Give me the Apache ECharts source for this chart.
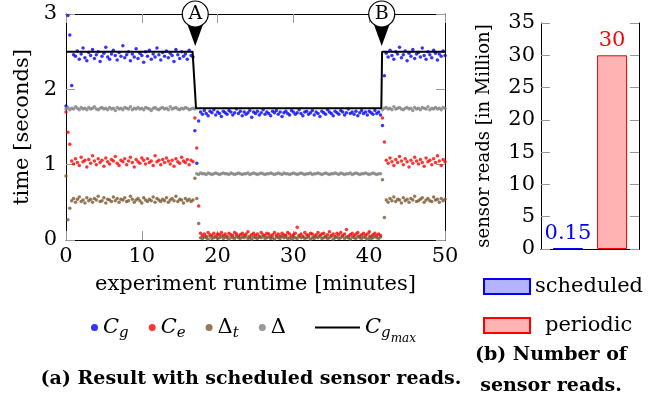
<!DOCTYPE html>
<html>
<head>
<meta charset="utf-8">
<script src="https://cdn.jsdelivr.net/npm/echarts@6/dist/echarts.min.js"></script>
<style>
  html, body { margin: 0; padding: 0; background: #fff; }
  #chart { width: 665px; height: 395px; }
</style>
</head>
<body>
<div id="chart"></div>
<script>
// samples every 0.25 minutes, t = 0 .. 50
var STEP = 0.25
var cg = [1.78, 2.98, 2.72, 2.05, 2.46,
  2.44, 2.51, 2.40, 2.47, 2.55, 2.42, 2.38, 2.49, 2.45, 2.53,
  2.41, 2.46, 2.50, 2.37, 2.44, 2.48, 2.56, 2.43, 2.40, 2.47,
  2.52, 2.45, 2.39, 2.49, 2.44, 2.58, 2.42, 2.46, 2.50, 2.38,
  2.47, 2.43, 2.54, 2.41, 2.48, 2.45, 2.36, 2.50, 2.44, 2.52,
  2.40, 2.47, 2.43, 2.55, 2.46, 2.39, 2.49, 2.44, 2.51, 2.42,
  2.48, 2.45, 2.37, 2.53, 2.46, 2.41, 2.50, 2.44, 2.47, 2.40,
  2.52, 2.45, 2.43,
  1.45, 1.02, 1.58,
  1.70, 1.67, 1.72, 1.68, 1.65, 1.71, 1.69, 1.73, 1.66, 1.70,
  1.68, 1.64, 1.71, 1.69, 1.67, 1.72, 1.70, 1.66, 1.69, 1.74,
  1.68, 1.71, 1.65, 1.70, 1.67, 1.69, 1.72, 1.63, 1.70, 1.68,
  1.71, 1.66, 1.69, 1.73, 1.67, 1.70, 1.68, 1.65, 1.71, 1.69,
  1.72, 1.67, 1.70, 1.64, 1.69, 1.71, 1.68, 1.66, 1.72, 1.70,
  1.67, 1.69, 1.73, 1.68, 1.65, 1.70, 1.71, 1.67, 1.69, 1.72,
  1.66, 1.70, 1.68, 1.64, 1.71, 1.69, 1.67, 1.73, 1.70, 1.68,
  1.65, 1.71, 1.69, 1.67, 1.72, 1.70, 1.66, 1.69, 1.74, 1.68,
  1.70, 1.67, 1.71, 1.65, 1.69, 1.72, 1.68, 1.70, 1.66, 1.71,
  1.69, 1.67, 1.72, 1.68, 1.70, 1.66,
  1.52, 2.18,
  2.48, 2.43, 2.52, 2.45, 2.40, 2.50, 2.47, 2.56, 2.42, 2.46,
  2.51, 2.38, 2.48, 2.44, 2.53, 2.41, 2.47, 2.49, 2.43, 2.55,
  2.45, 2.40, 2.50, 2.46, 2.42, 2.52, 2.48, 2.39, 2.47, 2.44,
  2.51, 2.45]
var ce = [1.70, 1.43, 1.27,
  1.05, 1.01, 1.08, 1.03, 0.99, 1.10, 1.04, 1.06, 0.97, 1.07,
  1.02, 1.12, 1.05, 1.00, 1.08, 1.03, 1.06, 0.98, 1.09, 1.04,
  1.01, 1.07, 1.05, 1.11, 1.02, 0.99, 1.06, 1.04, 1.08, 1.00,
  1.05, 1.10, 1.03, 0.97, 1.07, 1.04, 1.02, 1.09, 1.06, 1.01,
  1.08, 1.03, 1.05, 0.99, 1.12, 1.04, 1.06, 1.00, 1.07, 1.03,
  1.09, 1.05, 1.01, 1.06, 0.98, 1.08, 1.04, 1.02, 1.10, 1.05,
  1.03, 1.07, 1.00, 1.06, 1.04,
  1.62, 1.22, 0.45,
  0.09, 0.06, 0.08, 0.05, 0.10, 0.07, 0.06, 0.09, 0.05, 0.08,
  0.07, 0.10, 0.06, 0.08, 0.05, 0.09, 0.07, 0.06, 0.10, 0.08,
  0.05, 0.07, 0.09, 0.06, 0.08, 0.11, 0.05, 0.07, 0.09, 0.06,
  0.08, 0.05, 0.10, 0.07, 0.06, 0.09, 0.08, 0.05, 0.07, 0.10,
  0.06, 0.08, 0.05, 0.09, 0.07, 0.06, 0.10, 0.08, 0.05, 0.07,
  0.09, 0.17, 0.06, 0.08, 0.05, 0.10, 0.07, 0.06, 0.09, 0.08,
  0.05, 0.07, 0.10, 0.06, 0.08, 0.09, 0.05, 0.07, 0.11, 0.06,
  0.08, 0.05, 0.09, 0.07, 0.10, 0.06, 0.08, 0.14, 0.05, 0.07,
  0.09, 0.06, 0.08, 0.10, 0.05, 0.07, 0.09, 0.06, 0.08, 0.11,
  0.05, 0.07, 0.09, 0.06, 0.08, 0.06,
  1.62, 1.30,
  1.06, 1.02, 1.09, 1.04, 0.99, 1.07, 1.03, 1.11, 1.05, 1.00,
  1.08, 1.04, 0.97, 1.06, 1.02, 1.10, 1.05, 1.01, 1.07, 1.03,
  0.98, 1.09, 1.04, 1.06, 1.00, 1.08, 1.03, 1.12, 1.05, 0.99,
  1.07, 1.04]
var dt = [0.85, 0.27, 0.42,
  0.52, 0.55, 0.50, 0.54, 0.57, 0.51, 0.53, 0.49, 0.56, 0.52,
  0.54, 0.50, 0.55, 0.53, 0.58, 0.51, 0.52, 0.56, 0.49, 0.54,
  0.53, 0.51, 0.57, 0.52, 0.55, 0.50, 0.54, 0.53, 0.56, 0.51,
  0.52, 0.58, 0.54, 0.50, 0.53, 0.55, 0.52, 0.49, 0.56, 0.53,
  0.51, 0.54, 0.52, 0.57, 0.50, 0.55, 0.53, 0.51, 0.54, 0.52,
  0.56, 0.50, 0.53, 0.55, 0.52, 0.58, 0.51, 0.54, 0.53, 0.49,
  0.55, 0.52, 0.54, 0.51, 0.53,
  0.82, 0.55, 0.22,
  0.03, 0.02, 0.04, 0.03, 0.01, 0.05, 0.02, 0.03, 0.04, 0.02,
  0.03, 0.05, 0.02, 0.04, 0.03, 0.01, 0.04, 0.03, 0.02, 0.05,
  0.03, 0.02, 0.04, 0.03, 0.05, 0.02, 0.03, 0.01, 0.04, 0.03,
  0.02, 0.04, 0.03, 0.05, 0.02, 0.03, 0.04, 0.02, 0.03, 0.01,
  0.04, 0.03, 0.02, 0.05, 0.03, 0.04, 0.02, 0.03, 0.01, 0.04,
  0.03, 0.02, 0.05, 0.03, 0.04, 0.02, 0.03, 0.04, 0.01, 0.03,
  0.02, 0.04, 0.03, 0.05, 0.02, 0.03, 0.04, 0.02, 0.03, 0.05,
  0.01, 0.03, 0.04, 0.02, 0.03, 0.05, 0.02, 0.04, 0.03, 0.01,
  0.04, 0.03, 0.02, 0.05, 0.03, 0.02, 0.04, 0.03, 0.01, 0.04,
  0.02, 0.03, 0.05, 0.03, 0.02, 0.04,
  0.80, 0.30,
  0.53, 0.50, 0.55, 0.52, 0.57, 0.51, 0.54, 0.53, 0.49, 0.56,
  0.52, 0.54, 0.50, 0.55, 0.53, 0.58, 0.51, 0.52, 0.54, 0.56,
  0.50, 0.53, 0.55, 0.52, 0.51, 0.57, 0.53, 0.54, 0.50, 0.55,
  0.52, 0.54]
var delta = [
  1.74, 1.76, 1.73, 1.75, 1.74, 1.77, 1.75, 1.73, 1.76, 1.74,
  1.75, 1.73, 1.76, 1.74, 1.75, 1.77, 1.74, 1.73, 1.75, 1.76,
  1.74, 1.75, 1.73, 1.76, 1.74, 1.75, 1.72, 1.76, 1.74, 1.75,
  1.73, 1.76, 1.75, 1.74, 1.77, 1.73, 1.75, 1.74, 1.76, 1.74,
  1.75, 1.73, 1.76, 1.75, 1.74, 1.72, 1.75, 1.76, 1.74, 1.73,
  1.75, 1.76, 1.74, 1.75, 1.73, 1.77, 1.74, 1.75, 1.76, 1.74,
  1.73, 1.75, 1.74, 1.76, 1.75, 1.73, 1.74, 1.75,
  1.74,
  0.88, 0.87, 0.89, 0.88, 0.88, 0.87, 0.89, 0.88, 0.87, 0.88,
  0.89, 0.88, 0.87, 0.88, 0.89, 0.88, 0.88, 0.87, 0.89, 0.88,
  0.87, 0.88, 0.89, 0.88, 0.87, 0.88, 0.88, 0.89, 0.87, 0.88,
  0.89, 0.88, 0.87, 0.88, 0.89, 0.88, 0.87, 0.88, 0.88, 0.89,
  0.88, 0.87, 0.88, 0.89, 0.88, 0.87, 0.89, 0.88, 0.88, 0.87,
  0.88, 0.89, 0.88, 0.87, 0.88, 0.89, 0.88, 0.87, 0.88, 0.88,
  0.89, 0.87, 0.88, 0.88, 0.89, 0.88, 0.87, 0.88, 0.89, 0.88,
  0.87, 0.88, 0.88, 0.89, 0.88, 0.87, 0.89, 0.88, 0.87, 0.88,
  0.88, 0.89, 0.87, 0.88, 0.89, 0.88, 0.87, 0.88, 0.88, 0.89,
  0.88, 0.87, 0.88, 0.89, 0.88, 0.87, 0.88, 0.88,
  1.73, 1.75, 1.76, 1.74, 1.75, 1.73, 1.77, 1.74, 1.75, 1.76,
  1.74, 1.73, 1.75, 1.76, 1.74, 1.75, 1.72, 1.76, 1.74, 1.75,
  1.73, 1.76, 1.75, 1.74, 1.77, 1.73, 1.75, 1.74, 1.76, 1.74,
  1.75, 1.73, 1.76, 1.75]
// C_gmax step line (minutes, seconds)
var cgmaxT = [0, 16.7, 17.15, 41.6, 41.7, 50]
var cgmaxV = [2.5, 2.5, 1.75, 1.75, 2.5, 2.5]
// annotation markers
var marks = [['A', 17.05], ['B', 41.65]]

// bar panel
var barNames = ['scheduled', 'periodic']
var barValues = [0.15, 30]
var barLabels = ['0.15', '30']

var FONT = "'DejaVu Serif', 'Liberation Serif', serif"
var TICK = '#999'

function withTime(vals) {
  var out = []
  for (var i = 0; i < vals.length; i++) out.push([i * STEP, vals[i]])
  return out
}

var lineData = []
for (var i = 0; i < cgmaxT.length; i++) lineData.push([cgmaxT[i], cgmaxV[i]])

var markData = []
marks.forEach(function (m) {
  markData.push({
    coord: [m[1], 2.72], symbol: 'triangle', symbolRotate: 180, symbolSize: [16, 22],
    itemStyle: { color: '#000' }, label: { show: false }
  })
  markData.push({
    coord: [m[1], 3.0], symbol: 'circle', symbolSize: 26,
    itemStyle: { color: '#fff', borderColor: '#000', borderWidth: 1.2 },
    label: { show: true, position: 'inside', formatter: m[0], color: '#000', fontSize: 19, fontFamily: FONT }
  })
})

var legendNames = {
  'Cg': '{i|C}{s|g}',
  'Ce': '{i|C}{s|e}',
  'Dt': '{n|Δ}{s|t}',
  'D': '{n|Δ}',
  'Cgmax': '{i|C}{s|g}{ss|max}'
}
var rich = {
  i: { fontFamily: FONT, fontStyle: 'italic', fontSize: 21, color: '#000' },
  n: { fontFamily: FONT, fontSize: 21, color: '#000' },
  s: { fontFamily: FONT, fontStyle: 'italic', fontSize: 15, color: '#000', padding: [12, 0, 0, 0] },
  ss: { fontFamily: FONT, fontStyle: 'italic', fontSize: 12, color: '#000', padding: [22, 0, 0, 0] }
}

var scatterColors = { Cg: '#0000ff', Ce: '#ff0000', Dt: '#7b5631', D: '#808080' }
function scatter(name, vals) {
  return {
    name: name, type: 'scatter', xAxisIndex: 0, yAxisIndex: 0,
    data: withTime(vals), symbolSize: 3.5,
    itemStyle: { color: scatterColors[name] }
  }
}

var axisText = { color: '#000', fontSize: 21, fontFamily: FONT }

var chart = echarts.init(document.getElementById('chart'), null, { renderer: 'canvas' })
chart.setOption({
  animation: false,
  backgroundColor: '#fff',
  title: [
    { text: '(a) Result with scheduled sensor reads.', left: 246, top: 365, textAlign: 'center',
      textStyle: { fontFamily: FONT, fontWeight: 'bold', fontSize: 19, color: '#000' } },
    { text: '(b) Number of\nsensor reads.', left: 546, top: 335, textAlign: 'center',
      textStyle: { fontFamily: FONT, fontWeight: 'bold', fontSize: 19, color: '#000', lineHeight: 31 } }
  ],
  grid: [
    { left: 66, top: 14, width: 379, height: 226 },
    { left: 541, top: 23, width: 98, height: 226 }
  ],
  legend: [
    { data: ['Cg', 'Ce', 'Dt', 'D'], left: 86, top: 312, icon: 'circle', itemWidth: 7, itemHeight: 7,
      itemGap: 20, formatter: function (n) { return legendNames[n] }, textStyle: { rich: rich } },
    { data: [{ name: 'Cgmax', icon: 'rect' }], left: 310, top: 312, itemWidth: 45, itemHeight: 2,
      formatter: function (n) { return legendNames[n] }, textStyle: { rich: rich } },
    { data: [barNames[0], { name: barNames[1], textStyle: { padding: [0, 0, 0, 10] } }],
      left: 478, top: 271, orient: 'vertical', itemWidth: 46, itemHeight: 15, itemGap: 18,
      icon: 'rect', textStyle: { color: '#000', fontSize: 21, fontFamily: FONT } }
  ],
  xAxis: [
    { gridIndex: 0, type: 'value', min: 0, max: 50, interval: 10,
      name: 'experiment runtime [minutes]', nameLocation: 'middle', nameGap: 34,
      nameTextStyle: axisText,
      axisLine: { onZero: false, lineStyle: { color: '#000', width: 1 } },
      axisTick: { inside: true, length: 9, lineStyle: { color: TICK } },
      axisLabel: { margin: 6, color: '#000', fontSize: 21, fontFamily: FONT },
      splitLine: { show: false } },
    { gridIndex: 0, type: 'value', position: 'top', min: 0, max: 50, interval: 10,
      axisLine: { onZero: false, lineStyle: { color: '#000', width: 1 } },
      axisTick: { inside: true, length: 9, lineStyle: { color: TICK } },
      axisLabel: { show: false }, splitLine: { show: false } },
    { gridIndex: 1, type: 'category', data: ['reads'],
      axisLine: { lineStyle: { color: '#000', width: 1 } },
      axisTick: { show: false }, axisLabel: { show: false } },
    { gridIndex: 1, type: 'category', position: 'top', data: ['reads'],
      axisLine: { lineStyle: { color: '#000', width: 1 } },
      axisTick: { show: false }, axisLabel: { show: false } }
  ],
  yAxis: [
    { gridIndex: 0, type: 'value', min: 0, max: 3, interval: 1,
      name: 'time [seconds]', nameLocation: 'middle', nameGap: 23,
      nameTextStyle: axisText,
      axisLine: { show: true, onZero: false, lineStyle: { color: '#000', width: 1 } },
      axisTick: { show: true, inside: true, length: 9, lineStyle: { color: TICK } },
      axisLabel: { margin: 9, color: '#000', fontSize: 21, fontFamily: FONT },
      splitLine: { show: false } },
    { gridIndex: 0, type: 'value', position: 'right', min: 0, max: 3, interval: 1,
      axisLine: { show: true, onZero: false, lineStyle: { color: '#000', width: 1 } },
      axisTick: { show: true, inside: true, length: 9, lineStyle: { color: TICK } },
      axisLabel: { show: false }, splitLine: { show: false } },
    { gridIndex: 1, type: 'value', min: 0, max: 35, interval: 5,
      name: 'sensor reads [in Million]', nameLocation: 'middle', nameGap: 48,
      nameTextStyle: { color: '#000', fontSize: 18, fontFamily: FONT },
      axisLine: { show: true, lineStyle: { color: '#000', width: 1 } },
      axisTick: { show: true, inside: true, length: 9, lineStyle: { color: TICK } },
      axisLabel: { margin: 6, color: '#000', fontSize: 21, fontFamily: FONT },
      splitLine: { show: false } },
    { gridIndex: 1, type: 'value', position: 'right', min: 0, max: 35, interval: 5,
      axisLine: { show: true, lineStyle: { color: '#000', width: 1 } },
      axisTick: { show: true, inside: true, length: 9, lineStyle: { color: TICK } },
      axisLabel: { show: false }, splitLine: { show: false } }
  ],
  series: [
    scatter('Cg', cg),
    scatter('Ce', ce),
    scatter('Dt', dt),
    scatter('D', delta),
    { name: 'Cgmax', type: 'line', xAxisIndex: 0, yAxisIndex: 0, data: lineData,
      symbol: 'none', lineStyle: { color: '#000', width: 2 }, itemStyle: { color: '#000' },
      z: 5, markPoint: { data: markData, z: 6 } },
    { name: barNames[0], type: 'bar', xAxisIndex: 2, yAxisIndex: 2, data: [barValues[0]],
      barWidth: 30, barGap: '47%',
      itemStyle: { color: '#b3b3ff', borderColor: '#0000ff', borderWidth: 1 },
      label: { show: true, position: 'top', distance: 4, formatter: barLabels[0],
        color: '#0000ff', fontSize: 21, fontFamily: FONT } },
    { name: barNames[1], type: 'bar', xAxisIndex: 2, yAxisIndex: 2, data: [barValues[1]],
      barWidth: 30, barGap: '47%',
      itemStyle: { color: '#ffb3b3', borderColor: '#ff0000', borderWidth: 1 },
      label: { show: true, position: 'top', distance: 4, formatter: barLabels[1],
        color: '#ff0000', fontSize: 21, fontFamily: FONT } }
  ]
})
</script>
</body>
</html>
